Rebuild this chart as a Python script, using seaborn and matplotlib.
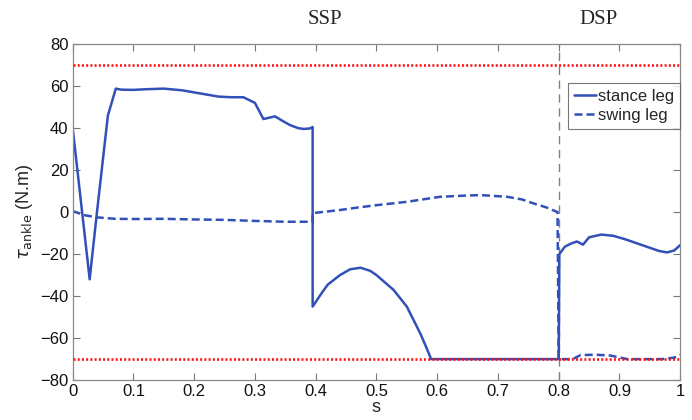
import numpy as np
import pandas as pd
import matplotlib
matplotlib.use("Agg")
import matplotlib.pyplot as plt
import seaborn as sns

# stance leg ankle torque
s_stance = [0.0, 0.028, 0.04, 0.058, 0.071, 0.08, 0.1, 0.12, 0.15, 0.18, 0.21, 0.24,
            0.26, 0.281, 0.30, 0.314, 0.333, 0.345, 0.358, 0.371, 0.38, 0.39, 0.395,
            0.395, 0.41, 0.42, 0.44, 0.457, 0.474, 0.49, 0.50, 0.528, 0.55, 0.572, 0.58,
            0.59, 0.65, 0.70, 0.75, 0.80, 0.801, 0.81, 0.82, 0.83, 0.84, 0.85, 0.87,
            0.89, 0.91, 0.93, 0.95, 0.965, 0.978, 0.99, 1.0]
tau_stance = [40, -32, 0, 46, 58.8, 58.3, 58.2, 58.5, 58.8, 58, 56.5, 55,
              54.7, 54.7, 52, 44.3, 45.6, 43.5, 41.4, 40, 39.6, 39.8, 40.5,
              -45, -38.5, -34.5, -30, -27.2, -26.5, -28, -30, -37, -45, -57.7, -63,
              -70, -70, -70, -70, -70, -20, -16.5, -15, -14, -15.5, -12, -10.7,
              -11.3, -13, -15, -17, -18.5, -19.2, -18.3, -15.7]

# swing leg ankle torque
s_swing = [0.0, 0.02, 0.04, 0.07, 0.1, 0.15, 0.2, 0.25, 0.3, 0.35, 0.395,
           0.395, 0.44, 0.47, 0.5, 0.55, 0.605, 0.65, 0.671, 0.715, 0.74, 0.759,
           0.78, 0.798, 0.80, 0.823, 0.836, 0.86, 0.885, 0.913, 0.97, 0.99, 1.0]
tau_swing = [0.5, -1.5, -2.5, -3.2, -3.3, -3.2, -3.5, -3.7, -4.2, -4.6, -4.6,
             -0.5, 1.0, 2.2, 3.3, 4.9, 7.3, 7.9, 8.1, 7.3, 6.0, 4.1,
             2.2, 0.0, -70, -70, -68.1, -67.9, -68.3, -70, -70, -69.3, -68]

tau_limit = 70
s_switch = 0.8
x_ticks = [0, 0.1, 0.2, 0.3, 0.4, 0.5, 0.6, 0.7, 0.8, 0.9, 1]
x_tick_labels = ["0", "0.1", "0.2", "0.3", "0.4", "0.5", "0.6", "0.7", "0.8", "0.9", "1"]
y_ticks = [-80, -60, -40, -20, 0, 20, 40, 60, 80]
y_tick_labels = ["\u221280", "\u221260", "\u221240", "\u221220", "0", "20", "40", "60", "80"]

stance = pd.DataFrame({"s": s_stance, "tau": tau_stance})
swing = pd.DataFrame({"s": s_swing, "tau": tau_swing})

sns.set_theme(style="ticks")
plt.rcParams["font.family"] = ["Liberation Sans", "DejaVu Sans"]

blue = "#3150b8"
fig = plt.figure(figsize=(6.92, 4.20), dpi=100)
ax = fig.add_axes([0.105, 0.095, 0.878, 0.80])

sns.lineplot(data=stance, x="s", y="tau", ax=ax, sort=False, estimator=None,
             color=blue, lw=1.8, label="stance leg")
sns.lineplot(data=swing, x="s", y="tau", ax=ax, sort=False, estimator=None,
             color=blue, lw=1.8, linestyle=(0, (3.2, 1.6)), label="swing leg")

# torque limits and phase switch
for lim in (tau_limit, -tau_limit):
    ax.axhline(lim, color="#ff1010", lw=1.9, linestyle=(0, (0.75, 0.85)), zorder=5)
ax.axvline(s_switch, color="#808080", lw=1.0, linestyle=(0, (6, 4)), zorder=1)

ax.set_xlim(0, 1)
ax.set_ylim(-80, 80)
ax.set_xticks(x_ticks)
ax.set_xticklabels(x_tick_labels)
ax.set_yticks(y_ticks)
ax.set_yticklabels(y_tick_labels)
ax.tick_params(axis="both", which="both", direction="in", top=True, right=True,
               length=5, width=0.8, color="#777777", labelsize=12, pad=3,
               labelcolor="#111111")
for sp in ax.spines.values():
    sp.set_color("#888888")
    sp.set_linewidth(0.9)

ax.set_xlabel("s", fontsize=13, labelpad=0)
ax.set_ylabel(r"$\tau_{\mathrm{ankle}}$ (N.m)", fontsize=13, labelpad=4)

leg = ax.legend(loc="upper right", bbox_to_anchor=(1.0, 0.885), fontsize=12,
                handlelength=1.3, handletextpad=0.15, borderpad=0.35,
                labelspacing=0.25, frameon=True, fancybox=False, borderaxespad=0)
leg.get_frame().set_edgecolor("#555555")
leg.get_frame().set_linewidth(0.8)

fig.text(325 / 692, 1 - 20 / 420, "SSP", fontsize=15, family="Liberation Serif",
         ha="center", va="center")
fig.text(598 / 692, 1 - 20 / 420, "DSP", fontsize=15, family="Liberation Serif",
         ha="center", va="center")

fig.savefig("out.png", dpi=100)
